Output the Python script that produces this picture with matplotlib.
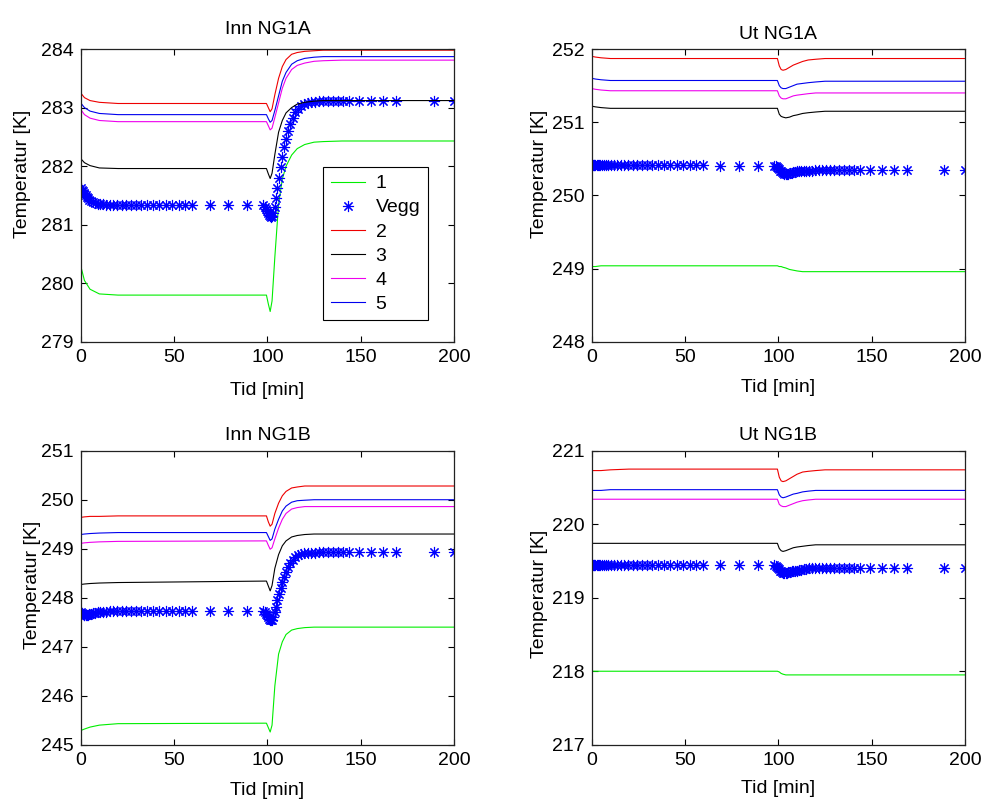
import matplotlib
matplotlib.use("Agg")
import matplotlib.pyplot as plt

plt.rcParams["font.family"] = ["Liberation Sans", "DejaVu Sans"]
plt.rcParams["font.size"] = 14

# time grids [min]
t_line = [0, 2, 5, 10, 20, 99.5, 100.5, 101.5, 102.5, 104,
          106, 108, 110, 113, 116, 120, 125, 130, 140, 200]
t_vegg = [0, 0.5, 1, 1.5, 2, 2.6, 3.2, 3.9, 4.7, 5.6,
          6.6, 7.7, 9, 10.4, 12, 13.7, 15.5, 17.5, 19.7, 22,
          24.5, 27, 29.7, 32.5, 35.5, 38.7, 42, 45.5, 49, 52.5,
          56, 59.5, 69, 79, 89, 97.5, 98.5, 99.3, 100, 100.5,
          101, 101.5, 102, 102.6, 103.2, 103.9, 104.6, 105.4, 106.2, 107.1,
          108, 109, 110, 111.1, 112.3, 113.6, 115, 116.5, 118.1, 119.8,
          121.6, 123.5, 125.5, 127.7, 130, 132.5, 135, 137.7, 140.5, 143.5,
          149, 155.5, 162, 169, 189, 200]

# Inn NG1A
innA_1 = [280.3, 280.05, 279.9, 279.82, 279.8, 279.8, 279.65, 279.52, 279.7, 280.45,
          281.35, 281.78, 282.0, 282.19, 282.3, 282.37, 282.41, 282.42, 282.43, 282.43]
innA_2 = [283.25, 283.17, 283.12, 283.09, 283.07, 283.07, 283.0, 282.93, 282.98, 283.22,
          283.5, 283.7, 283.82, 283.91, 283.94, 283.96, 283.97, 283.98, 283.98, 283.98]
innA_3 = [282.13, 282.06, 282.01, 281.97, 281.96, 281.96, 281.87, 281.79, 281.88, 282.2,
          282.58, 282.78, 282.91, 283.0, 283.06, 283.09, 283.11, 283.12, 283.12, 283.12]
innA_4 = [282.97, 282.88, 282.82, 282.78, 282.76, 282.76, 282.69, 282.62, 282.65, 282.83,
          283.08, 283.33, 283.5, 283.65, 283.72, 283.76, 283.79, 283.8, 283.81, 283.81]
innA_5 = [283.08, 283.0, 282.94, 282.9, 282.88, 282.88, 282.81, 282.75, 282.78, 282.95,
          283.2, 283.45, 283.6, 283.74, 283.8, 283.84, 283.86, 283.87, 283.87, 283.87]
innA_vegg = [281.62, 281.6, 281.58, 281.55, 281.53, 281.5, 281.48, 281.45, 281.43, 281.41,
             281.39, 281.37, 281.36, 281.35, 281.35, 281.34, 281.34, 281.34, 281.34, 281.34,
             281.34, 281.34, 281.34, 281.34, 281.34, 281.34, 281.34, 281.34, 281.34, 281.34,
             281.34, 281.34, 281.33, 281.33, 281.33, 281.33, 281.3, 281.27, 281.24, 281.2,
             281.17, 281.15, 281.14, 281.15, 281.2, 281.3, 281.45, 281.62, 281.8, 281.98,
             282.15, 282.32, 282.46, 282.6, 282.72, 282.83, 282.92, 282.98, 283.03, 283.06,
             283.08, 283.09, 283.1, 283.11, 283.11, 283.12, 283.12, 283.12, 283.12, 283.12,
             283.12, 283.12, 283.12, 283.12, 283.12, 283.12]

# Ut NG1A
utA_1 = [249.03, 249.03, 249.04, 249.04, 249.04, 249.04, 249.03, 249.03, 249.02, 249.01,
         248.99, 248.98, 248.97, 248.96, 248.96, 248.96, 248.96, 248.96, 248.96, 248.96]
utA_2 = [251.9, 251.89, 251.88, 251.87, 251.87, 251.87, 251.77, 251.72, 251.71, 251.72,
         251.75, 251.78, 251.8, 251.83, 251.85, 251.86, 251.87, 251.87, 251.87, 251.87]
utA_3 = [251.22, 251.21, 251.2, 251.19, 251.19, 251.19, 251.11, 251.08, 251.07, 251.06,
         251.07, 251.09, 251.1, 251.12, 251.13, 251.14, 251.15, 251.15, 251.15, 251.15]
utA_4 = [251.46, 251.45, 251.44, 251.43, 251.43, 251.43, 251.36, 251.33, 251.32, 251.32,
         251.34, 251.36, 251.37, 251.38, 251.39, 251.4, 251.4, 251.4, 251.4, 251.4]
utA_5 = [251.6, 251.59, 251.58, 251.57, 251.57, 251.57, 251.5, 251.47, 251.46, 251.46,
         251.48, 251.5, 251.52, 251.53, 251.54, 251.55, 251.56, 251.56, 251.56, 251.56]
utA_vegg = [250.42, 250.42, 250.42, 250.41, 250.41, 250.41, 250.41, 250.41, 250.41, 250.41,
            250.41, 250.41, 250.41, 250.41, 250.41, 250.41, 250.41, 250.41, 250.41, 250.41,
            250.41, 250.41, 250.41, 250.41, 250.41, 250.41, 250.41, 250.41, 250.41, 250.41,
            250.41, 250.41, 250.4, 250.4, 250.4, 250.4, 250.4, 250.39, 250.38, 250.36,
            250.34, 250.33, 250.32, 250.31, 250.3, 250.3, 250.3, 250.3, 250.31, 250.31,
            250.32, 250.32, 250.33, 250.33, 250.33, 250.34, 250.34, 250.34, 250.34, 250.35,
            250.35, 250.35, 250.35, 250.35, 250.35, 250.35, 250.35, 250.35, 250.35, 250.35,
            250.35, 250.35, 250.35, 250.35, 250.35, 250.35]

# Inn NG1B
innB_1 = [245.29, 245.32, 245.36, 245.4, 245.43, 245.44, 245.35, 245.26, 245.4, 246.2,
          246.85, 247.1, 247.25, 247.34, 247.37, 247.39, 247.4, 247.4, 247.4, 247.4]
innB_2 = [249.64, 249.65, 249.66, 249.66, 249.67, 249.67, 249.55, 249.46, 249.5, 249.72,
          249.93, 250.08, 250.17, 250.24, 250.26, 250.28, 250.28, 250.28, 250.28, 250.28]
innB_3 = [248.27, 248.28, 248.29, 248.3, 248.31, 248.34, 248.24, 248.14, 248.25, 248.6,
          248.88, 249.06, 249.16, 249.24, 249.27, 249.29, 249.3, 249.3, 249.3, 249.3]
innB_4 = [249.11, 249.12, 249.13, 249.14, 249.15, 249.16, 249.07, 248.99, 249.02, 249.2,
          249.42, 249.6, 249.72, 249.81, 249.84, 249.86, 249.86, 249.86, 249.86, 249.86]
innB_5 = [249.29, 249.3, 249.31, 249.32, 249.33, 249.33, 249.25, 249.17, 249.2, 249.4,
          249.6, 249.77, 249.87, 249.95, 249.98, 249.99, 250.0, 250.0, 250.0, 250.0]
innB_vegg = [247.7, 247.68, 247.66, 247.65, 247.64, 247.64, 247.64, 247.65, 247.66, 247.67,
             247.68, 247.69, 247.7, 247.7, 247.71, 247.71, 247.72, 247.72, 247.72, 247.72,
             247.72, 247.72, 247.72, 247.72, 247.72, 247.72, 247.72, 247.72, 247.72, 247.72,
             247.72, 247.72, 247.72, 247.72, 247.72, 247.72, 247.7, 247.67, 247.64, 247.6,
             247.57, 247.55, 247.54, 247.55, 247.6, 247.7, 247.82, 247.95, 248.07, 248.2,
             248.32, 248.43, 248.53, 248.62, 248.7, 248.77, 248.83, 248.87, 248.9, 248.91,
             248.92, 248.92, 248.92, 248.93, 248.93, 248.93, 248.93, 248.93, 248.93, 248.93,
             248.93, 248.93, 248.93, 248.93, 248.93, 248.93]

# Ut NG1B
utB_1 = [218.0, 218.0, 218.0, 218.0, 218.0, 218.0, 217.99, 217.97, 217.96, 217.95,
         217.95, 217.95, 217.95, 217.95, 217.95, 217.95, 217.95, 217.95, 217.95, 217.95]
utB_2 = [220.73, 220.73, 220.73, 220.74, 220.75, 220.75, 220.64, 220.59, 220.58, 220.59,
         220.62, 220.65, 220.68, 220.71, 220.72, 220.73, 220.74, 220.74, 220.74, 220.74]
utB_3 = [219.74, 219.74, 219.74, 219.74, 219.74, 219.74, 219.67, 219.64, 219.63, 219.64,
         219.66, 219.68, 219.69, 219.7, 219.71, 219.72, 219.72, 219.72, 219.72, 219.72]
utB_4 = [220.34, 220.34, 220.34, 220.34, 220.34, 220.34, 220.27, 220.25, 220.24, 220.24,
         220.26, 220.28, 220.3, 220.32, 220.33, 220.34, 220.34, 220.34, 220.34, 220.34]
utB_5 = [220.46, 220.46, 220.46, 220.47, 220.47, 220.47, 220.4, 220.37, 220.36, 220.37,
         220.39, 220.41, 220.42, 220.44, 220.45, 220.46, 220.46, 220.46, 220.46, 220.46]
utB_vegg = [219.44, 219.44, 219.44, 219.44, 219.44, 219.44, 219.44, 219.44, 219.44, 219.44,
            219.44, 219.44, 219.44, 219.44, 219.44, 219.44, 219.44, 219.44, 219.44, 219.44,
            219.44, 219.44, 219.44, 219.44, 219.44, 219.44, 219.44, 219.44, 219.44, 219.44,
            219.44, 219.44, 219.44, 219.44, 219.44, 219.44, 219.43, 219.42, 219.41, 219.39,
            219.37, 219.36, 219.35, 219.34, 219.34, 219.34, 219.34, 219.35, 219.35, 219.36,
            219.36, 219.37, 219.37, 219.38, 219.38, 219.39, 219.39, 219.4, 219.4, 219.4,
            219.41, 219.41, 219.41, 219.41, 219.41, 219.41, 219.41, 219.41, 219.41, 219.41,
            219.41, 219.41, 219.41, 219.41, 219.41, 219.41]

titles = ["Inn NG1A", "Ut NG1A", "Inn NG1B", "Ut NG1B"]
ylims = [(279, 284), (248, 252), (245, 251), (217, 221)]
series = [(innA_1, innA_vegg, innA_2, innA_3, innA_4, innA_5),
          (utA_1, utA_vegg, utA_2, utA_3, utA_4, utA_5),
          (innB_1, innB_vegg, innB_2, innB_3, innB_4, innB_5),
          (utB_1, utB_vegg, utB_2, utB_3, utB_4, utB_5)]

# axes rectangles in figure fractions (pixel-measured)
rects = [(0.0821, 0.5736, 0.3798, 0.3653), (0.6019, 0.5736, 0.3798, 0.3653),
         (0.0821, 0.0714, 0.3798, 0.3666), (0.6019, 0.0714, 0.3798, 0.3666)]
ylab_xy = [(-0.155, 0.575), (-0.141, 0.575), (-0.128, 0.545), (-0.14, 0.513)]
xlab_y = [-0.164, -0.154, -0.157, -0.148]
title_pad = [11, 7.5, 7.5, 7.5]

line_colors = ["#00ee00", "#ee0000", "#000000", "#ee00ee", "#0000ee"]
labels = ["1", "Vegg", "2", "3", "4", "5"]

fig = plt.figure(figsize=(9.83, 8.02), dpi=100)

for i in range(4):
    ax = fig.add_axes(rects[i])
    s1, vegg, s2, s3, s4, s5 = series[i]
    ax.plot(t_line, s1, color=line_colors[0], lw=0.8, label=labels[0])
    ax.plot(t_vegg, vegg, linestyle="none", marker=(8, 2, 0), markersize=8,
            markeredgewidth=0.8, color="#0000ff", label=labels[1])
    for k, s in enumerate((s2, s3, s4, s5)):
        ax.plot(t_line, s, color=line_colors[k + 1], lw=0.8, label=labels[k + 2])

    ax.set_xlim(0, 200)
    ax.set_ylim(*ylims[i])
    ax.set_xticks([0, 50, 100, 150, 200])
    ax.set_yticks(range(ylims[i][0], ylims[i][1] + 1))
    ax.tick_params(direction="in", top=True, right=True, length=4, width=0.8,
                   labelsize=14, pad=5)
    for sp in ax.spines.values():
        sp.set_linewidth(0.9)
        sp.set_color("#222222")

    ax.set_title(titles[i], fontsize=14, pad=title_pad[i])
    ax.set_xlabel("Tid [min]", fontsize=14, va="center")
    ax.xaxis.set_label_coords(0.5, xlab_y[i])
    ax.set_ylabel("Temperatur [K]", fontsize=14, va="center")
    ax.yaxis.set_label_coords(*ylab_xy[i])

    if i == 0:
        leg = ax.legend(loc="upper left", bbox_to_anchor=(0.649, 0.597),
                        fontsize=14, numpoints=1, fancybox=False, framealpha=1,
                        edgecolor="black", handlelength=1.75, labelspacing=0.33,
                        borderpad=0.4, handletextpad=0.55, borderaxespad=0)
        leg.get_frame().set_linewidth(0.8)

fig.savefig("out.png", dpi=100)
